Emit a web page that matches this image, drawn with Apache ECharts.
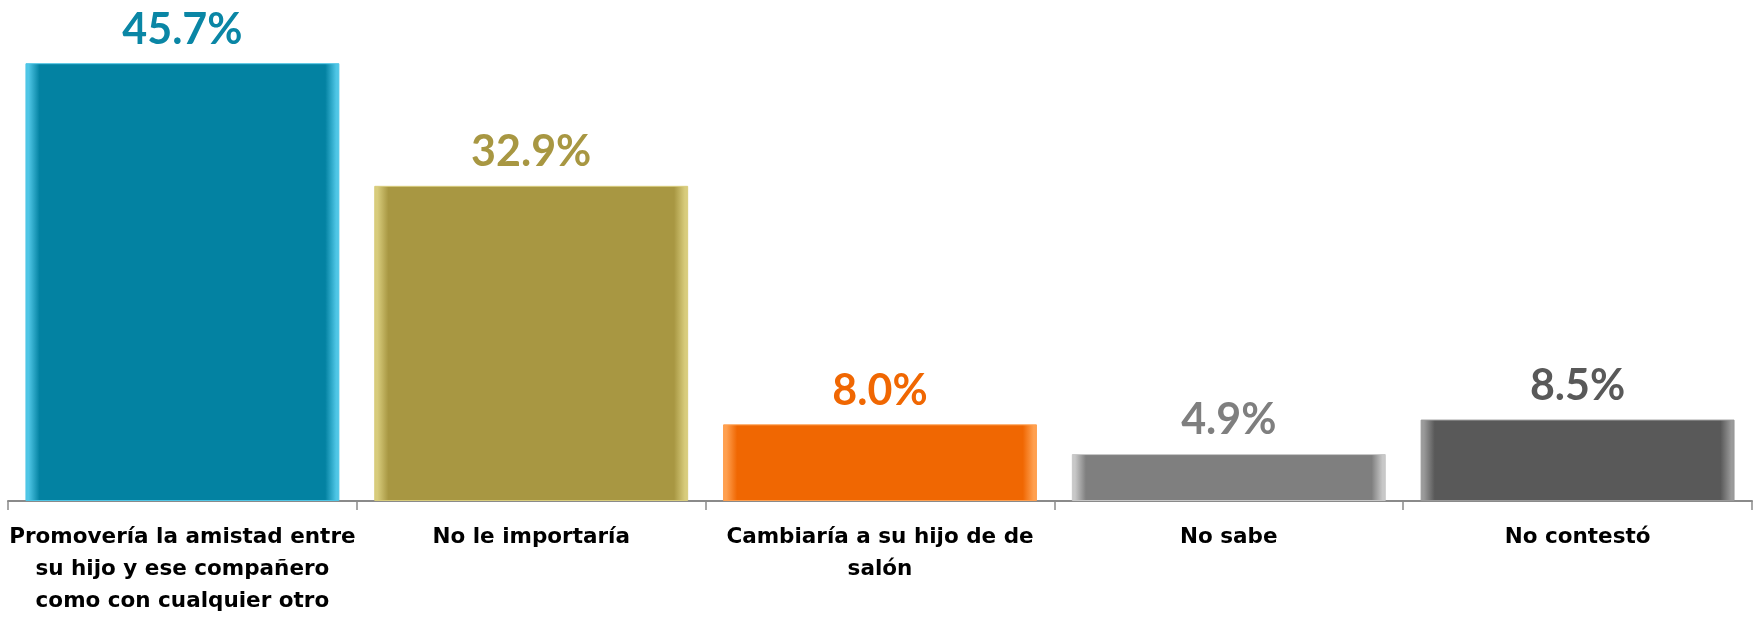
<!DOCTYPE html>
<html>
<head>
<meta charset="utf-8">
<script src="https://cdn.jsdelivr.net/npm/echarts@6/dist/echarts.min.js"></script>
<style>
html,body{margin:0;padding:0;background:#fff;}
#chart{width:1758px;height:617px;}
</style>
</head>
<body>
<div id="chart"></div>
<script>
var categories = [
    "Promovería la amistad entre\nsu hijo y ese compañero\ncomo con cualquier otro",
    "No le importaría",
    "Cambiaría a su hijo de de\nsalón",
    "No sabe",
    "No contestó"
];
var values = [45.7, 32.9, 8.0, 4.9, 8.5];
var barColors = ["#0382a2", "#a89742", "#f06702", "#7f7f7f", "#595959"];
var edgeColors = ["#4fc6e6", "#d8cc7c", "#ffa050", "#c8c8c8", "#9a9a9a"];
var labelColors = ["#0a86a5", "#a89742", "#f06702", "#7f7f7f", "#595959"];

// barra con bisel: bordes claros a los lados
function bevel(i){
    return {
        type: 'linear', x: 0, y: 0, x2: 1, y2: 0,
        colorStops: [
            {offset: 0, color: edgeColors[i]},
            {offset: 0.01, color: edgeColors[i]},
            {offset: 0.045, color: barColors[i]},
            {offset: 0.955, color: barColors[i]},
            {offset: 0.99, color: edgeColors[i]},
            {offset: 1, color: edgeColors[i]}
        ]
    };
}

var data = values.map(function(v, i){
    return {
        value: v,
        itemStyle: {color: bevel(i), borderColor: edgeColors[i], borderWidth: 1},
        label: {color: labelColors[i]}
    };
});

var myChart = echarts.init(document.getElementById('chart'));
var option = {
    animation: false,
    grid: {left: 8, right: 6, top: 22, bottom: 110, containLabel: false},
    xAxis: {
        type: 'category',
        data: categories,
        axisLine: {lineStyle: {color: '#8a8a8a', width: 2}},
        axisTick: {show: true, length: 9, lineStyle: {color: '#8a8a8a', width: 1.5}},
        axisLabel: {
            interval: 0,
            margin: 20,
            color: '#000',
            fontFamily: 'DejaVu Sans',
            fontWeight: 'bold',
            fontSize: 21.5,
            lineHeight: 32
        }
    },
    yAxis: {
        type: 'value',
        min: 0, max: 50,
        show: false,
        splitLine: {show: false}
    },
    series: [{
        type: 'bar',
        data: data,
        barCategoryGap: '10%',
        label: {
            show: true,
            position: 'top',
            distance: 12,
            fontFamily: 'Lato',
            fontWeight: 'bold',
            fontSize: 43,
            formatter: function(p){ return p.value.toFixed(1) + '%'; }
        }
    }]
};
myChart.setOption(option);
</script>
</body>
</html>
